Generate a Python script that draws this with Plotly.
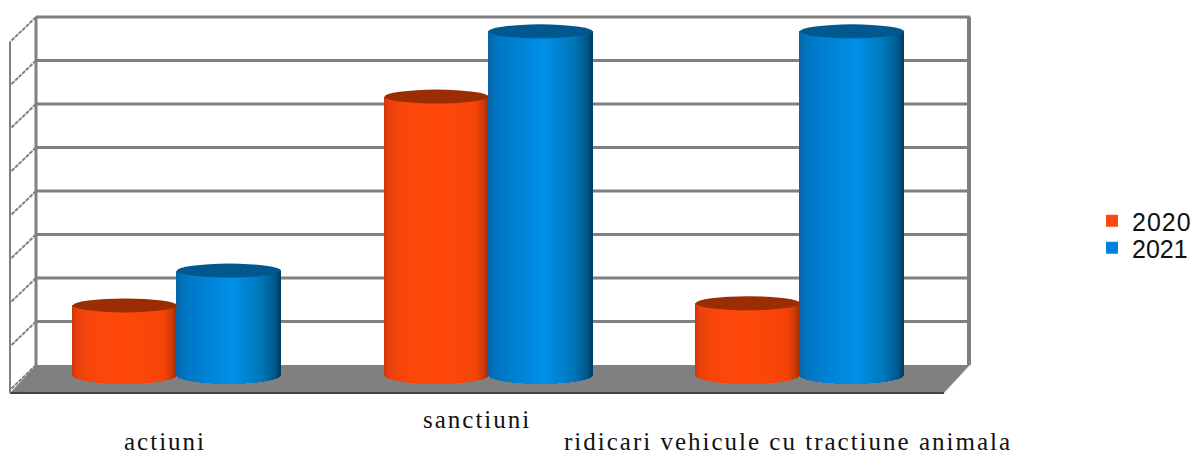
import math
import plotly.graph_objects as go

categories = ["actiuni", "sanctiuni", "ridicari vehicule cu tractiune animala"]
series_names = ["2020", "2021"]
values_2020 = [1.6, 6.4, 1.65]
values_2021 = [2.4, 7.9, 7.9]
grid_values = list(range(9))

W, H = 1193, 456
L, R, T, B = 7, 974, 14, 397           # plot box in page pixels
FL, FR, FB = 10, 970, 393              # floor left, wall right, floor front
CX0, CAT_W = 177.0, 311.5              # first category centre, category step
Y0, UNIT = 375.0, 43.5                 # cylinder base pixel, pixels per value unit
CYL_W, CAP_H = 104.0, 7.0
DEPTH_X = 26.0
WALL_Y0 = 365.0
WALL_GRAY = "#808080"

px = lambda d: d / CAT_W
py = lambda d: d / UNIT
dx = lambda p: (p - CX0) / CAT_W
dy = lambda p: (Y0 - p) / UNIT
paper_y = lambda p: (B - p) / (B - T)
paper_x = lambda p: (p - L) / (R - L)


def ramp(stops, t):
    for (t0, c0), (t1, c1) in zip(stops, stops[1:]):
        if t <= t1:
            f = (t - t0) / (t1 - t0)
            return "rgb(%d,%d,%d)" % tuple(round(a + (b - a) * f) for a, b in zip(c0, c1))
    return "rgb(%d,%d,%d)" % stops[-1][1]


orange = [(0, (205, 55, 10)), (.05, (235, 65, 12)), (.2, (250, 70, 10)), (.5, (255, 72, 10)),
          (.88, (245, 68, 8)), (.96, (205, 58, 8)), (1, (160, 46, 0))]
blue = [(0, (10, 100, 165)), (.08, (0, 118, 195)), (.55, (0, 144, 232)), (.82, (0, 118, 185)),
        (.95, (0, 88, 140)), (1, (0, 60, 100))]
legend_colors = ["#FF4510", "#0082D8"]
cap_colors = ["#9A2E02", "#00588F"]

fig = go.Figure()
shapes = []

# walls and floor
wall_left = FL + DEPTH_X
floor_path = "M %f %f L %f %f L %f %f L %f %f Z" % (
    dx(wall_left), dy(WALL_Y0), dx(FR), dy(WALL_Y0),
    dx(FR - DEPTH_X), dy(FB), dx(FL), dy(FB))
shapes.append(dict(type="path", path=floor_path, fillcolor=WALL_GRAY, line=dict(width=0), layer="below"))
shapes.append(dict(type="line", x0=dx(FL), x1=dx(FR - DEPTH_X), y0=dy(FB), y1=dy(FB),
                   line=dict(color="#444444", width=2), layer="below"))
wall_base = dy(WALL_Y0)
for g in grid_values:
    y = wall_base + g
    if g > 0:
        shapes.append(dict(type="line", x0=dx(wall_left), x1=dx(FR), y0=y, y1=y,
                           line=dict(color=WALL_GRAY, width=3), layer="below"))
    shapes.append(dict(type="line", x0=dx(wall_left), x1=dx(FL), y0=y, y1=y - py(25),
                       line=dict(color=WALL_GRAY, width=2, dash="4px,1px"), layer="below"))
for xpix, w in ((wall_left, 3), (FR - 1, 4)):
    shapes.append(dict(type="line", x0=dx(xpix), x1=dx(xpix), y0=wall_base, y1=wall_base + 8,
                       line=dict(color=WALL_GRAY, width=w), layer="below"))
shapes.append(dict(type="line", x0=dx(FL), x1=dx(FL), y0=dy(FB), y1=wall_base + 8 - py(25),
                   line=dict(color=WALL_GRAY, width=2), layer="below"))
shapes.append(dict(type="line", x0=dx(FR), x1=dx(FR - DEPTH_X), y0=wall_base, y1=dy(FB),
                   line=dict(color="#cfcfcf", width=1), layer="below"))

# cylinders
N = int(CYL_W)
for s, (name, vals, stops) in enumerate(zip(series_names, (values_2020, values_2021), (orange, blue))):
    off = (s - .5) * px(CYL_W)
    fig.add_trace(go.Bar(
        x=[i + off for i in range(len(vals))], y=vals, width=px(CYL_W - 4), name=name,
        legend="legend" if s == 0 else "legend2",
        marker=dict(color=legend_colors[s], line=dict(width=0)), hoverinfo="skip"))
    xs, ys, bases, cols = [], [], [], []
    for i, v in enumerate(vals):
        for k in range(N):
            t = (k + .5) / N
            xs.append(i + off + (t - .5) * px(CYL_W))
            drop = py(CAP_H + 2) * math.sqrt(max(0, 1 - (2 * t - 1) ** 2))
            bases.append(-drop)
            ys.append(v + drop)
            cols.append(ramp(stops, t))
    fig.add_trace(go.Bar(x=xs, y=ys, base=bases, width=px(1.25), showlegend=False,
                         marker=dict(color=cols, line=dict(width=0)), hoverinfo="skip"))
    for i, v in enumerate(vals):
        shapes.append(dict(type="circle", x0=i + off - px(CYL_W / 2), x1=i + off + px(CYL_W / 2),
                           y0=v - py(CAP_H), y1=v + py(CAP_H), fillcolor=cap_colors[s], line=dict(width=0)))

# staggered category labels
label_rows = [441, 419, 441]
annotations = [dict(x=i - px(12), xref="x", y=paper_y(row), yref="paper", text=c, showarrow=False,
                    xanchor="center", yanchor="middle", height=22, borderpad=0,
                    font=dict(family="Liberation Serif", size=25, color="#111111"))
               for i, (c, row) in enumerate(zip(categories, label_rows))]

legend_style = dict(x=paper_x(1092), xanchor="left", yanchor="middle",
                    font=dict(family="Liberation Sans", size=25, color="#111111"),
                    bgcolor="rgba(0,0,0,0)", itemclick=False, itemdoubleclick=False)

fig.update_layout(
    width=W, height=H, autosize=False,
    margin=dict(l=L, r=W - R, t=T, b=H - B, autoexpand=False),
    paper_bgcolor="white", plot_bgcolor="white",
    barmode="overlay", bargap=0, shapes=shapes, annotations=annotations,
    xaxis=dict(visible=False, range=[dx(L), dx(R)], fixedrange=True),
    yaxis=dict(visible=False, range=[dy(B), dy(T)], fixedrange=True),
    legend=dict(y=paper_y(221), **legend_style),
    legend2=dict(y=paper_y(248), **legend_style),
)
post = """
document.body.style.margin='0';
document.documentElement.style.overflow='hidden';
var st=document.createElement('style');
st.textContent=".annotation-text{letter-spacing:2px}"
 +".annotation, .annotation *{clip-path:none !important}"
 +".legendtext{letter-spacing:1px}"
 +"path.legendbar{d:path('M12,6.5H-5V-6.5H12Z')}";
document.head.appendChild(st);
"""
fig.write_html("out.html", config=dict(displayModeBar=False), post_script=post)
